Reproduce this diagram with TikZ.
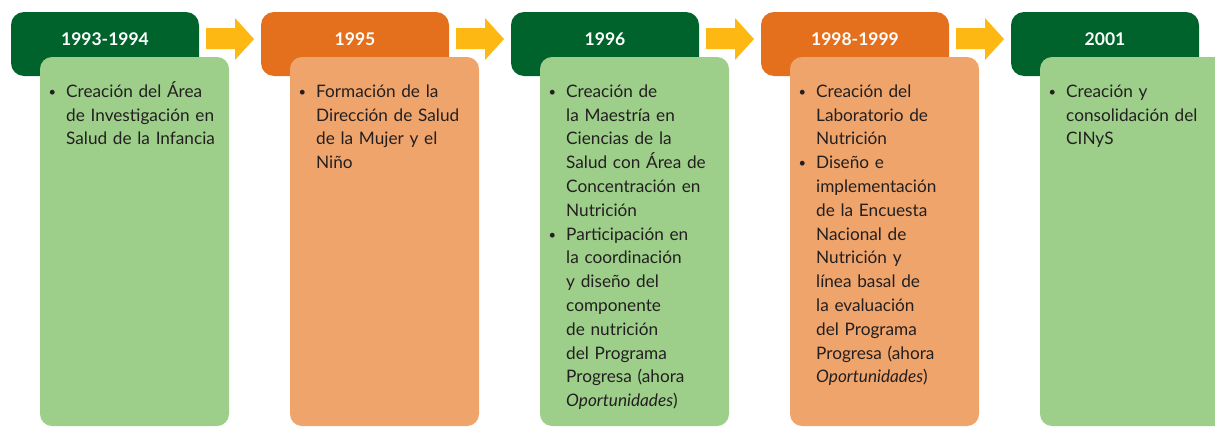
\documentclass[tikz,border=0pt]{standalone}
\usepackage{fontspec}
\setmainfont{Lato}
\definecolor{hgreen}{HTML}{00632C}
\definecolor{horange}{HTML}{E4701E}
\definecolor{bgreen}{HTML}{9DCF8A}
\definecolor{borange}{HTML}{EFA46B}
\definecolor{arrowc}{HTML}{FDB813}
\definecolor{txtc}{HTML}{231F20}
\newcommand{\bul}{\makebox[0pt][r]{\raisebox{1pt}{\scalebox{0.75}{\textbullet}}\hspace{10pt}}}
\newcommand{\fl}{\rule{0pt}{20pt}}
\tikzset{
  headbox/.style={rectangle, rounded corners=13pt, minimum width=188pt, minimum height=64pt, inner sep=0pt},
  headg/.style={headbox, fill=hgreen},
  heado/.style={headbox, fill=horange},
  bodybox/.style={rectangle, rounded corners=12pt, minimum width=189pt, minimum height=369pt, inner sep=0pt},
  bodyg/.style={bodybox, fill=bgreen},
  bodyo/.style={bodybox, fill=borange},
  yeartxt/.style={text=white, font=\fontsize{17.5}{20}\selectfont\bfseries, inner sep=0pt, anchor=center},
  itemtxt/.style={text=txtc, font=\fontsize{17.2}{23.8}\selectfont, inner sep=0pt, anchor=north west, text width=200pt, align=left},
  blockarrow/.style={fill=arrowc}
}
\begin{document}
\begin{tikzpicture}[x=1pt,y=-1pt]
\useasboundingbox (0,0) rectangle (1215,426);
% headers
\node[headg] (h1) at (105,44) {};
\node[heado] (h2) at (355,44) {};
\node[headg] (h3) at (605,44) {};
\node[heado] (h4) at (855,44) {};
\node[headg] (h5) at (1105,44) {};
\node[yeartxt] (y1) at (h1.center |- 0,39.5) {1993-1994};
\node[yeartxt] (y2) at (h2.center |- 0,39.5) {1995};
\node[yeartxt] (y3) at (h3.center |- 0,39.5) {1996};
\node[yeartxt] (y4) at (h4.center |- 0,39.5) {1998-1999};
\node[yeartxt] (y5) at (h5.center |- 0,39.5) {2001};
% arrows
\foreach \i in {0,1,2,3}{
  \fill[blockarrow] (206+250*\i,28) -- (235+250*\i,28) -- (235+250*\i,18) -- (254+250*\i,39) -- (235+250*\i,60) -- (235+250*\i,49) -- (206+250*\i,49) -- cycle;
}
% bodies
\node[bodyg] (c1) at (134.5,241.5) {};
\node[bodyo] (c2) at (384.5,241.5) {};
\node[bodyg] (c3) at (634.5,241.5) {};
\node[bodyo] (c4) at (884.5,241.5) {};
\node[bodyg] (c5) at (1134.5,241.5) {};
% texts
\node[itemtxt] (t1) at (66,77) {\fl\bul Creación del Área\\de Investigación en\\Salud de la Infancia};
\node[itemtxt] (t2) at (316,77) {\fl\bul Formación de la\\Dirección de Salud\\de la Mujer y el\\Niño};
\node[itemtxt] (t3) at (566,77) {\fl\bul Creación de\\la Maestría en\\Ciencias de la\\Salud con Área de\\Concentración en\\Nutrición\\\bul Participación en\\la coordinación\\y diseño del\\componente\\de nutrición\\del Programa\\Progresa (ahora\\\textit{Oportunidades})};
\node[itemtxt] (t4) at (816,77) {\fl\bul Creación del\\Laboratorio de\\Nutrición\\\bul Diseño e\\implementación\\de la Encuesta\\Nacional de\\Nutrición y\\línea basal de\\la evaluación\\del Programa\\Progresa (ahora\\\textit{Oportunidades})};
\node[itemtxt] (t5) at (1066,77) {\fl\bul Creación y\\consolidación del\\CINyS};
\end{tikzpicture}
\end{document}
